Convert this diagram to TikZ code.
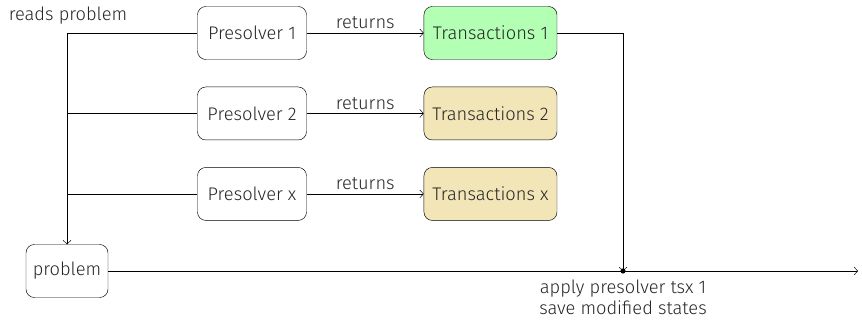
\documentclass[tikz,border=0pt]{standalone}
\usepackage{fontspec}
\setmainfont{Fira Sans}[UprightFont={* Light}]
\usetikzlibrary{
  arrows.meta,
  positioning,  % Function "of" (e.g. [right=of x])
  calc,         % Calculations $...$
}
\definecolor{tsxgreen}{HTML}{B3FFB3}
\definecolor{tsxsand}{HTML}{F2E6B8}
\def\myvdist{0.81cm}
\def\myhdist{3.51cm}
\tikzset{
  font=\fontsize{15.6}{18}\selectfont,
  text=black!85,
  line width=0.7pt,
  >={Straight Barb[length=1.1mm,width=2.4mm]},
  my box/.style={
    draw,
    rectangle,
    rounded corners=2.5mm,
    minimum height=1.59cm,
    inner sep=0.5mm
  },
  my presolver/.style={
    my box,
    minimum width=3.27cm
  },
  my tsx/.style={
    my box,
    minimum width=3.99cm
  },
  my label/.style={
    inner sep=0mm,
    align=center
  }
}

\begin{document}
\begin{tikzpicture}[x=0.03cm,y=-0.03cm]
\useasboundingbox (0,0) rectangle (862,320);
\node[my presolver] (p1) at (252,33) {Presolver 1};
\node[my presolver,below=\myvdist of p1] (p2) {Presolver 2};
\node[my presolver,below=\myvdist of p2] (px) {Presolver x};
\node[my tsx,fill=tsxgreen,right=\myhdist of p1] (t1) {Transactions 1};
\node[my tsx,fill=tsxsand,right=\myhdist of p2] (t2) {Transactions 2};
\node[my tsx,fill=tsxsand,right=\myhdist of px] (tx) {Transactions x};
\node[my box,minimum width=2.46cm] (prob) at (67,271) {problem};
\node[my label] (reads) at (68,16) {reads problem};
\coordinate (col) at (623,0);
\coordinate (apply) at (prob -| col);
\coordinate (out) at (858,271);
\path[->]
  (p1) edge node[above] {returns} (t1)
  (p2) edge node[above] {returns} (t2)
  (px) edge node[above] {returns} (tx);
\draw (prob.north |- p1) -- (p1);
\draw (prob.north |- p2) -- (p2);
\draw (prob.north |- px) -- (px);
\draw[->] (prob.north |- p1) -- (prob.north);
\draw[->] (t1.east) -| (apply);
\draw[->] (prob.east) -- (out);
\fill (apply) circle (2.2pt);
\node[my label,anchor=north,yshift=-2.6mm] at (apply) {apply presolver tsx 1\\save modified states};
\end{tikzpicture}
\end{document}
